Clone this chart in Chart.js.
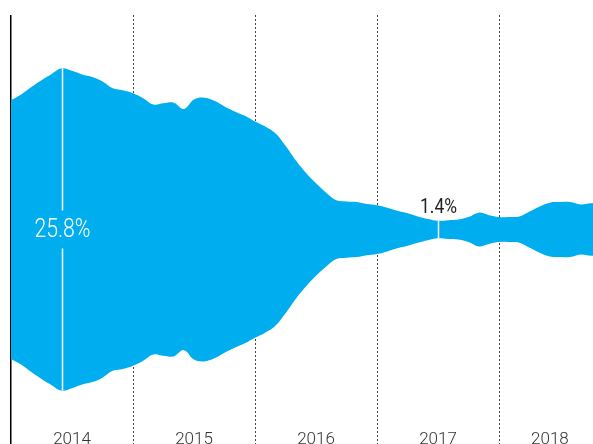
<!DOCTYPE html>
<html>
<head>
<meta charset="utf-8">
<script src="https://cdn.jsdelivr.net/npm/chart.js@4/dist/chart.umd.min.js"></script>
<style>
    html, body { margin: 0; padding: 0; background: #fff; }
    #wrap { width: 593px; height: 444px; }
</style>
</head>
<body>
<div id="wrap"><canvas id="stream" width="593" height="444"></canvas></div>
<script>
// Monthly series starting Jan 2014, width of the stream in %
const startYear = 2014;
const years = ['2014', '2015', '2016', '2017', '2018'];
const widths = [
    20.7, 21.6, 22.8, 23.9, 24.9, 25.8, 25.4, 24.8, 24.4, 23.7, 22.6, 22.3,
    21.8, 21.0, 20.0, 20.2, 20.3, 19.3, 20.8, 21.1, 20.6, 19.7, 18.9, 18.2,
    17.3, 16.5, 15.4, 13.4, 11.1, 9.1, 7.4, 5.9, 4.7, 4.5, 4.4, 4.1,
    3.9, 3.5, 3.0, 2.6, 2.1, 1.7, 1.4, 1.5, 1.6, 2.0, 2.7, 2.3,
    2.0, 2.0, 2.1, 2.9, 3.7, 4.3, 4.4, 4.4, 4.0, 4.2, 4.2
];
// months that get a value callout
const noteMonths = [5, 42];

const FONT = 'Roboto, "DejaVu Sans Condensed", sans-serif';
const BLUE = '#00aeef';

const xs = widths.map((v, i) => startYear + i / 12);
const lastX = xs[xs.length - 1];

// year boundaries get dotted lines, year centres get the labels
const boundaries = years.map(y => +y);
const labelPos = {};
years.forEach(y => {
    const a = +y;
    const b = Math.min(a + 1, lastX);
    labelPos[((a + b) / 2).toFixed(3)] = y;
});

// condensed text: squeeze horizontally around the anchor
function squeezedText(ctx, text, x, y, sx) {
    ctx.save();
    ctx.translate(x, y);
    ctx.scale(sx, 1);
    ctx.fillText(text, 0, 0);
    ctx.restore();
}

const callouts = {
    id: 'callouts',
    afterDatasetsDraw(chart) {
        const { ctx, scales: { x, y } } = chart;
        ctx.save();
        noteMonths.forEach(i => {
            const px = Math.round(x.getPixelForValue(xs[i])) + 0.5;
            const top = y.getPixelForValue(widths[i] / 2);
            const bot = y.getPixelForValue(-widths[i] / 2);
            const mid = y.getPixelForValue(0);
            const text = widths[i].toFixed(1) + '%';
            ctx.strokeStyle = '#fff';
            ctx.lineWidth = 1.5;
            ctx.textAlign = 'center';
            if (bot - top > 80) {
                ctx.beginPath();
                ctx.moveTo(px, top); ctx.lineTo(px, mid - 19);
                ctx.moveTo(px, mid + 19); ctx.lineTo(px, bot);
                ctx.stroke();
                ctx.font = '300 25px ' + FONT;
                ctx.fillStyle = '#fff';
                ctx.textBaseline = 'middle';
                squeezedText(ctx, text, px, mid + 1, 0.85);
            } else {
                ctx.beginPath();
                ctx.moveTo(px, top); ctx.lineTo(px, bot);
                ctx.stroke();
                ctx.font = '400 20.5px ' + FONT;
                ctx.fillStyle = '#222';
                ctx.textBaseline = 'bottom';
                squeezedText(ctx, text, px, top - 3, 0.85);
            }
        });
        ctx.restore();
    }
};

new Chart(document.getElementById('stream'), {
    type: 'line',
    data: {
        datasets: [
            {
                data: xs.map((x, i) => ({ x, y: widths[i] / 2 })),
                backgroundColor: BLUE,
                borderWidth: 0,
                pointRadius: 0,
                tension: 0.4,
                fill: '+1'
            },
            {
                data: xs.map((x, i) => ({ x, y: -widths[i] / 2 })),
                backgroundColor: BLUE,
                borderWidth: 0,
                pointRadius: 0,
                tension: 0.4,
                fill: false
            }
        ]
    },
    options: {
        responsive: false,
        animation: false,
        events: [],
        layout: { padding: { top: 15, left: 11, right: 0, bottom: 0 } },
        plugins: {
            legend: { display: false },
            tooltip: { enabled: false }
        },
        scales: {
            x: {
                type: 'linear',
                // axis sits inside the plot so the dotted lines run to the bottom
                position: { y: -16.05 },
                min: 2014,
                max: 2018.77,
                afterBuildTicks: axis => {
                    const t = boundaries.map(v => ({ value: v }));
                    Object.keys(labelPos).forEach(k => t.push({ value: +k }));
                    axis.ticks = t.sort((a, b) => a.value - b.value);
                },
                border: {
                    display: false,
                    dash: ctx => (ctx.tick && ctx.tick.value === 2014 ? [] : [2, 2])
                },
                grid: {
                    color: ctx => {
                        const v = ctx.tick ? ctx.tick.value : 0;
                        if (v === 2014) return '#000';
                        return boundaries.includes(v) ? '#444' : 'rgba(0,0,0,0)';
                    },
                    lineWidth: ctx => (ctx.tick && ctx.tick.value === 2014 ? 1.5 : 1),
                    drawTicks: false,
                    z: -1
                },
                ticks: {
                    autoSkip: false,
                    maxRotation: 0,
                    padding: 0,
                    color: '#333',
                    font: { family: FONT, size: 17, weight: 300, lineHeight: 1.1 },
                    callback: value => labelPos[value.toFixed(3)] || ''
                }
            },
            y: {
                display: false,
                min: -17.16,
                max: 17.16
            }
        }
    },
    plugins: [callouts]
});
</script>
</body>
</html>
